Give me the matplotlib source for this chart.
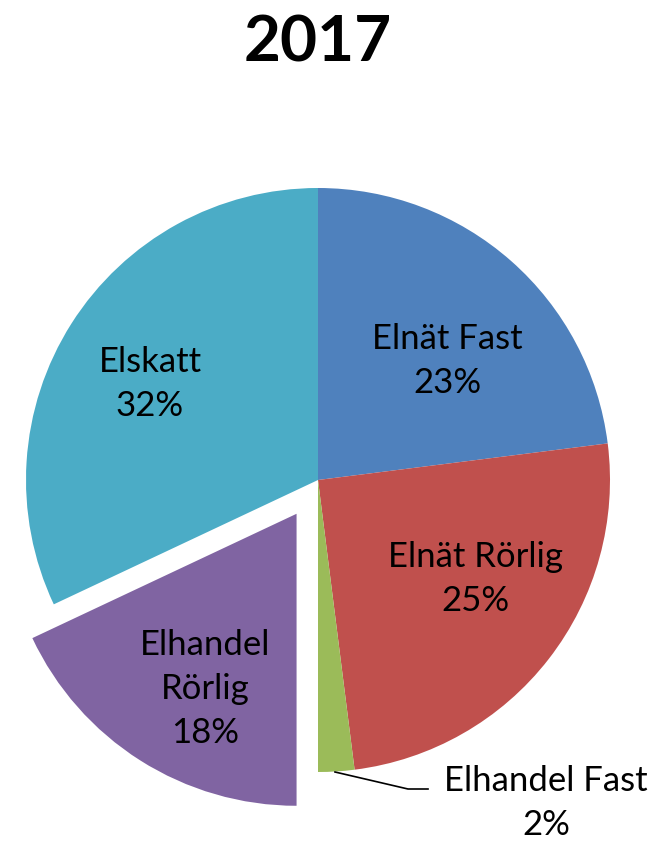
import matplotlib

matplotlib.use("Agg")
import matplotlib.pyplot as plt

plt.rcParams["font.family"] = ["Lato", "DejaVu Sans"]

# slice data, clockwise from 12 o'clock
labels = ["Elnät Fast", "Elnät Rörlig", "Elhandel Fast", "Elhandel Rörlig", "Elskatt"]
label_text = ["Elnät Fast\n23%", "Elnät Rörlig\n25%", "Elhandel Fast\n2%",
              "Elhandel\nRörlig\n18%", "Elskatt\n32%"]
shares = [23, 25, 2, 18, 32]
colors = ["#4F81BD", "#C0504D", "#9BBB59", "#8064A2", "#4BACC6"]

W, H = 663, 845
fig = plt.figure(figsize=(W / 100, H / 100), dpi=100)
ax = fig.add_axes([0, 0, 1, 1])

# work in pixel coords measured from the top, converted to y-up
def Y(y):
    return H - y

cx, cy, r = 318, 481, 292
# explode offset is in data units for matplotlib, so scale by radius
explode = [0, 0, 0, 0.137 * r, 0]
wedges, _ = ax.pie(
    shares,
    colors=colors,
    explode=explode,
    startangle=90,
    counterclock=False,
    center=(cx, Y(cy)),
    radius=r,
    frame=True,
    wedgeprops=dict(linewidth=0),
)
ax.set_xlim(0, W)
ax.set_ylim(0, H)
ax.set_aspect("equal")
ax.axis("off")

fs = 25
pos = {
    0: (447, 361),
    1: (475, 579),
    3: (205, 689),
    4: (150, 384),
}
for i, (x, y) in pos.items():
    ax.text(x, Y(y), label_text[i], ha="center", va="center", fontsize=fs,
            linespacing=1.45, color="#000000")

# outside label for the small slice with leader line
ax.plot([335, 408, 428], [Y(773), Y(790), Y(790)], color="black", linewidth=1.2)
ax.text(546, Y(803), label_text[2], ha="center", va="center", fontsize=fs,
        linespacing=1.45)

ax.text(318, Y(43), "2017", ha="center", va="center", fontsize=46,
        fontweight="bold")

fig.savefig("out.png", dpi=100)
